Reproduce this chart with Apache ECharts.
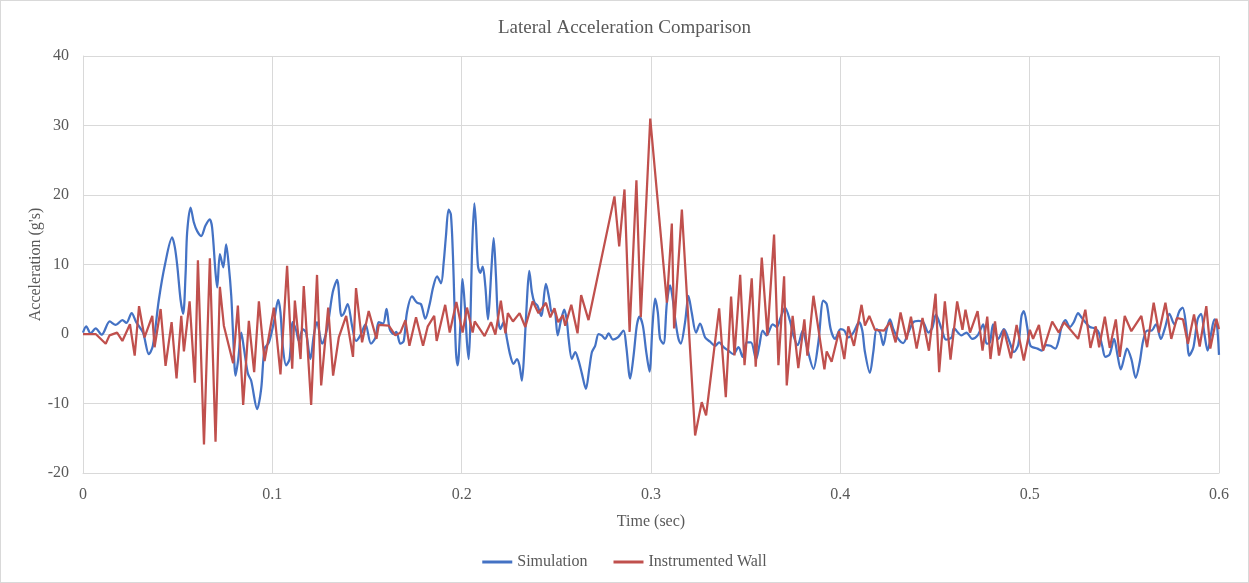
<!DOCTYPE html>
<html>
<head>
<meta charset="utf-8">
<script src="https://cdn.jsdelivr.net/npm/echarts@6/dist/echarts.min.js"></script>
<style>
  html, body { margin: 0; padding: 0; background: #ffffff; }
  #chart { width: 1249px; height: 583px; box-sizing: border-box; border: 1px solid #d9d9d9; }
</style>
</head>
<body>
<div id="chart"></div>
<script>
// Simulation trace: time (sec) and lateral acceleration (g's)
const simTime = [0,0.0017,0.004,0.0067,0.0099,0.0141,0.0173,0.0208,0.0229,0.0257,0.0281,0.0317,0.0348,0.0369,0.0401,0.0433,0.0471,0.0485,0.0498,0.0515,0.0529,0.0542,0.055,0.0568,0.0586,0.0603,0.0624,0.0647,0.0669,0.0682,0.07,0.0709,0.0723,0.0741,0.0756,0.077,0.0783,0.0793,0.0806,0.082,0.0836,0.085,0.0871,0.0888,0.092,0.0941,0.0959,0.0982,0.1008,0.1031,0.1043,0.1055,0.1073,0.1091,0.1108,0.1126,0.114,0.1161,0.1178,0.1201,0.1219,0.1236,0.1263,0.1289,0.1319,0.1342,0.1365,0.1377,0.1398,0.1421,0.1442,0.1465,0.1492,0.1521,0.1545,0.1562,0.1585,0.1603,0.162,0.1641,0.1655,0.1676,0.1694,0.1711,0.1738,0.1764,0.1785,0.1808,0.1831,0.1849,0.187,0.1891,0.1905,0.1917,0.1931,0.1943,0.1954,0.1961,0.197,0.1979,0.1993,0.2005,0.202,0.2028,0.2037,0.2046,0.2054,0.2067,0.2075,0.2086,0.2098,0.2111,0.2125,0.2139,0.2148,0.2157,0.2169,0.2181,0.2191,0.2204,0.2222,0.2239,0.2257,0.2274,0.2292,0.2305,0.2318,0.2332,0.2345,0.2357,0.2371,0.2385,0.24,0.242,0.2445,0.2463,0.2476,0.249,0.2507,0.2524,0.2542,0.2555,0.2565,0.2582,0.26,0.2617,0.2635,0.2656,0.2674,0.2688,0.2705,0.2723,0.274,0.2758,0.2776,0.2799,0.2825,0.2855,0.2869,0.289,0.2908,0.2925,0.2939,0.2957,0.2975,0.2992,0.3008,0.3022,0.3036,0.3048,0.3066,0.3084,0.3101,0.3115,0.3128,0.3145,0.3157,0.318,0.3198,0.3215,0.3238,0.3259,0.3286,0.3312,0.3339,0.336,0.3383,0.3409,0.3435,0.3462,0.3484,0.3505,0.3528,0.3555,0.3572,0.359,0.3611,0.3643,0.3664,0.3685,0.3708,0.3734,0.3752,0.3775,0.3801,0.3822,0.3858,0.3884,0.391,0.3928,0.3949,0.3972,0.4001,0.4021,0.4042,0.4069,0.4099,0.4116,0.413,0.4156,0.4174,0.4192,0.421,0.4227,0.4245,0.4262,0.428,0.4306,0.4332,0.4359,0.4385,0.4412,0.4438,0.4465,0.4486,0.4505,0.4535,0.4558,0.4588,0.46,0.464,0.4666,0.4697,0.4725,0.4755,0.4772,0.479,0.4807,0.4834,0.4864,0.4892,0.4917,0.494,0.4957,0.4969,0.4987,0.5004,0.5041,0.5065,0.5086,0.511,0.5135,0.5155,0.5168,0.5189,0.5212,0.5233,0.5256,0.5273,0.5294,0.5318,0.5345,0.5365,0.5383,0.54,0.5423,0.5446,0.5463,0.5481,0.5502,0.5514,0.5537,0.556,0.5581,0.5599,0.562,0.5643,0.5667,0.5693,0.5716,0.5738,0.5764,0.5791,0.5808,0.5826,0.5843,0.5865,0.5887,0.5905,0.5923,0.594,0.5958,0.5976,0.5988,0.6];
const simAccel = [0.2,1.1,0.1,0.8,-0.1,1.8,1.3,2,1.6,3,1.7,0.2,-2.9,-1.7,5,10,13.9,12.5,9.8,5,2.9,8.8,14.6,18.2,16,14.8,14.1,15.6,16.5,15.3,8.8,6.7,11.5,9.6,12.9,9.8,5.5,-0.2,-6,-3.6,0.2,-2.1,-5.7,-6.7,-10.8,-7.9,-2.1,-1.2,1.7,4.9,3.1,-1.7,-4.5,-3.6,1.7,0.5,-1,0.7,0.2,-3.6,-0.2,1.7,-1.4,0.7,6,7.8,2.6,2.9,4.3,1.2,-1,-0.2,1.4,-1.4,-0.5,1.7,1.5,3.6,0.7,0,0.3,-1.4,-1,3.1,5.4,4.5,4.3,2.2,4.3,6.7,8.3,7.3,10.3,14.1,17.9,17.2,11.2,5,-2.6,-4.5,1.2,7.9,2.6,-1.2,-3.6,1.7,11.2,18.8,16,9.8,8.8,9.7,6.9,2.1,5,9.3,13.8,8.4,2.6,0.7,1.7,-0.7,-3.1,-4.3,-3.6,-4.5,-6.7,-1.7,5,9.1,6,4.5,4.1,2.6,7.2,5,3.1,3.4,-0.2,1.9,3.5,2,-0.7,-3.6,-2.6,-3.8,-5.7,-7.9,-5,-2.6,-1.7,0,-0.2,-0.7,0.1,-0.8,-0.5,0.5,-1.7,-6.4,-3.1,1.2,2.5,1.2,-2.6,-5.4,1.2,5.1,3.1,-0.7,-1.4,4.5,7,5,2.1,-0.7,-1.4,1.7,5.5,3.1,0.2,1.5,-0.5,-1.1,-1.7,-1.2,-1.9,-2.4,-2.9,-1.9,-3.3,-1.2,-1.2,-3.6,-1.7,0.5,-0.2,1.4,1,2.4,3.8,1.9,-0.2,-1.6,0.5,-1.7,-5,-1.2,4.8,4.3,0.7,-0.7,0.7,0.5,-0.5,0.2,1.7,0.5,-2.6,-5.6,-2.6,0.7,0.2,-1.6,0.7,2.1,0.7,-0.7,-1.3,0.2,1.7,1.9,1.7,0.2,0.9,2.8,0.7,-0.8,-0.5,0.8,-0.2,0.2,-0.7,-0.2,1.4,-1.4,-1.2,1.4,-0.7,0.7,-1,-2.6,-1.5,2.6,3.3,1,-1.7,-2.1,-2.4,-1.6,-1.7,-2.1,-0.7,1,2,1,1.7,3,2.4,1.7,1,0.8,0.2,-1.7,-3.3,-2.9,-0.7,-2.9,-5.1,-3.1,-2.1,-3.6,-6.3,-4.1,-1,0.5,0.5,1.4,-0.7,1,2.9,1.4,3.3,3.8,1.2,-3.1,-1.9,2.1,2.9,0,-2.4,0,2.1,1.6,-3];

// Instrumented wall record: time (sec) and lateral acceleration (g's)
const wallTime = [0,0.0067,0.012,0.014,0.018,0.0208,0.0248,0.0273,0.0296,0.0325,0.0366,0.0378,0.041,0.0436,0.0468,0.0494,0.0519,0.0533,0.0563,0.0591,0.0607,0.0639,0.067,0.07,0.0723,0.0744,0.0793,0.0818,0.0846,0.0876,0.0904,0.0929,0.0959,0.1008,0.1043,0.1078,0.1105,0.1119,0.1149,0.1166,0.1205,0.1236,0.1258,0.1295,0.1321,0.1351,0.139,0.1426,0.1442,0.1474,0.1509,0.155,0.1562,0.1615,0.165,0.1676,0.1703,0.1724,0.1759,0.1796,0.1821,0.1855,0.1868,0.1913,0.1937,0.1972,0.2005,0.2028,0.2058,0.2069,0.2121,0.2155,0.2178,0.2207,0.2231,0.2244,0.2271,0.2306,0.2336,0.2375,0.2406,0.2445,0.2468,0.249,0.251,0.2535,0.2547,0.2579,0.2612,0.2631,0.267,0.2807,0.2832,0.286,0.2887,0.2923,0.2946,0.2996,0.3084,0.311,0.3122,0.3163,0.3233,0.3268,0.3291,0.336,0.3395,0.3423,0.3441,0.3471,0.3494,0.3532,0.3553,0.3585,0.3615,0.365,0.3673,0.3703,0.3717,0.3748,0.3778,0.381,0.3826,0.3858,0.3916,0.3928,0.3954,0.3993,0.4021,0.4042,0.4072,0.4112,0.413,0.4153,0.4183,0.4231,0.4262,0.4292,0.4318,0.435,0.4373,0.4403,0.4434,0.4468,0.4503,0.4522,0.4552,0.4582,0.4617,0.4645,0.4661,0.4685,0.4725,0.4751,0.4776,0.4793,0.4817,0.4838,0.4864,0.4901,0.4931,0.4969,0.5001,0.5018,0.5049,0.5071,0.5119,0.5154,0.5182,0.5256,0.5294,0.5321,0.5349,0.5367,0.5397,0.5423,0.5455,0.5476,0.5502,0.5537,0.559,0.562,0.5655,0.5683,0.5717,0.5748,0.5778,0.581,0.5836,0.5868,0.5898,0.5933,0.5954,0.5986,0.6];
const wallAccel = [0,0,-1.4,-0.2,0.2,-1,1.4,-3.1,4,-0.5,2.6,-1.9,3.6,-4.6,1.7,-6.4,2.6,-2.5,4.7,-7,10.6,-15.9,10.9,-15.5,6.8,1.2,-4.2,4.1,-10.2,1.9,-5.5,4.7,-3.9,3.8,-5.8,9.8,-5,4.8,-3.6,6.9,-10.2,8.5,-7.4,3.8,-6,-0.5,2.6,-3.3,6.6,-1.2,3.3,-0.7,1.3,1.2,-0.2,0.2,2,-1.7,2.4,-1.7,1.1,2.6,-1,4.2,0.2,4.6,0.2,3.8,0.2,1.8,-0.3,1.7,-0.1,4.8,0.1,3,1.8,3,1,4.7,3,4.5,2.4,3.7,1.7,2.7,1.2,4.2,0.1,5.6,2,19.8,12.6,20.8,0.3,22.1,2.4,31,4.5,15.9,0.8,17.9,-14.6,-9.8,-11.7,3.7,-9.1,5.4,-3.1,8.5,-4.5,8,-4.7,11,-0.2,14.3,-4.5,8.3,-7.4,2.6,-4.9,2.1,-3.1,5.5,-5.1,-2.5,-4,0.4,-3.6,1.1,-1.7,4.2,1.2,2.6,0.6,0.5,1.7,-1.2,3.1,-0.8,2.5,-2.1,2.3,-2.4,5.8,-5.5,4.7,-3.7,4.7,0.6,3.5,0.2,3.3,-2.4,2.5,-3.6,1.8,-3.1,0.6,-3.5,1.3,-3.8,0.6,-0.7,1.3,-2.4,1.8,0.2,1.7,-0.7,3.5,-2,1.1,-1.9,2.5,-2,2.1,-3.3,2.6,0.4,2.6,-1.9,4.5,0.2,4.5,-0.7,2.3,2.1,-1.4,2.8,-1.8,4,-2.1,2.2,0.7];

// Axis ticks
const xTicks = [0, 0.1, 0.2, 0.3, 0.4, 0.5, 0.6];
const yTicks = [-20, -10, 0, 10, 20, 30, 40];

const pairs = (xs, ys) => xs.map((x, i) => [x, ys[i]]);

const textColor = '#595959';
const fontFamily = '"Liberation Serif", "Times New Roman", serif';
const gridColor = '#d9d9d9';

const chart = echarts.init(document.getElementById('chart'), null, { renderer: 'canvas' });
chart.setOption({
  animation: false,
  backgroundColor: '#ffffff',
  textStyle: { fontFamily: fontFamily },
  title: {
    text: 'Lateral Acceleration Comparison',
    left: 'center',
    top: 13,
    textStyle: { color: textColor, fontSize: 19, fontWeight: 'normal', fontFamily: fontFamily }
  },
  legend: {
    bottom: 7,
    left: 'center',
    icon: 'rect',
    itemWidth: 30,
    itemHeight: 3,
    itemGap: 26,
    textStyle: { color: textColor, fontSize: 16, fontFamily: fontFamily },
    data: ['Simulation', 'Instrumented Wall']
  },
  grid: { left: 82, right: 29, top: 55, bottom: 109, containLabel: false },
  xAxis: {
    type: 'value',
    min: xTicks[0],
    max: xTicks[xTicks.length - 1],
    interval: 0.1,
    name: 'Time (sec)',
    nameLocation: 'middle',
    nameGap: 41,
    nameTextStyle: { color: textColor, fontSize: 16, fontFamily: fontFamily },
    axisLine: { show: true, onZero: false, lineStyle: { color: gridColor } },
    axisTick: { show: false },
    axisLabel: {
      color: textColor, fontSize: 16, fontFamily: fontFamily, margin: 14,
      formatter: v => String(Math.round(v * 10) / 10)
    },
    splitLine: { show: true, lineStyle: { color: gridColor, width: 1 } }
  },
  yAxis: {
    type: 'value',
    min: yTicks[0],
    max: yTicks[yTicks.length - 1],
    interval: 10,
    name: "Acceleration (g's)",
    nameLocation: 'middle',
    nameGap: 39,
    nameMoveOverlap: false,
    nameTextStyle: { color: textColor, fontSize: 16, fontFamily: fontFamily },
    axisLine: { show: true, lineStyle: { color: gridColor } },
    axisTick: { show: false },
    axisLabel: { color: textColor, fontSize: 16, fontFamily: fontFamily, margin: 14 },
    splitLine: { show: true, lineStyle: { color: gridColor, width: 1 } }
  },
  series: [
    {
      name: 'Simulation',
      type: 'line',
      data: pairs(simTime, simAccel),
      showSymbol: false,
      symbol: 'none',
      smooth: 0.3,
      lineStyle: { color: '#4472C4', width: 2.25 },
      itemStyle: { color: '#4472C4' },
      z: 2
    },
    {
      name: 'Instrumented Wall',
      type: 'line',
      data: pairs(wallTime, wallAccel),
      showSymbol: false,
      symbol: 'none',
      smooth: false,
      lineStyle: { color: '#C0504D', width: 2.25 },
      itemStyle: { color: '#C0504D' },
      z: 3
    }
  ]
});
</script>
</body>
</html>
